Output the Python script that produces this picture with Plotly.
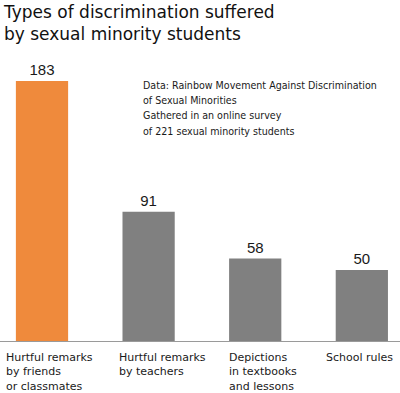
import plotly.graph_objects as go

categories = [
    "Hurtful remarks by friends or classmates",
    "Hurtful remarks by teachers",
    "Depictions in textbooks and lessons",
    "School rules",
]
tick_labels = [
    "Hurtful remarks<br>by friends<br>or classmates",
    "Hurtful remarks<br>by teachers",
    "Depictions<br>in textbooks<br>and lessons",
    "School rules",
]
values = [183, 91, 58, 50]

note_lines = [
    "Data: Rainbow Movement Against Discrimination",
    "of Sexual Minorities",
    "Gathered in an online survey",
    "of 221 sexual minority students",
]

bar_colors = ["#EF8A3C", "#808080", "#808080", "#808080"]
label_shifts = [-38, -32, -28, -38]

fig = go.Figure()
fig.add_trace(go.Bar(
    x=categories, y=values, width=0.49,
    marker=dict(color=bar_colors, line=dict(width=0)),
    text=[str(v) for v in values], textposition="outside",
    textfont=dict(family="Liberation Sans", size=15, color="#1a1a1a"),
    cliponaxis=False, hoverinfo="skip",
))

for cat, lab, sh in zip(categories, tick_labels, label_shifts):
    fig.add_annotation(
        x=cat, xref="x", y=0, yref="paper", text=lab, showarrow=False,
        xanchor="left", yanchor="top", align="left", xshift=sh, yshift=-8,
        font=dict(family="DejaVu Sans", size=11, color="#1a1a1a"),
    )

for i, line in enumerate(note_lines):
    fig.add_annotation(
        x=0.352, xref="paper", y=0.94, yref="paper", yshift=-15.3 * i,
        showarrow=False, xanchor="left", yanchor="top", align="left",
        text=line,
        font=dict(family="DejaVu Sans Condensed", size=10.6, color="#1a1a1a"),
    )

fig.add_annotation(
    x=0.003, xref="paper", y=1.0, yref="paper", yshift=60, showarrow=False,
    xanchor="left", yanchor="top", align="left",
    text="Types of discrimination suffered<br>by sexual minority students",
    font=dict(family="DejaVu Sans", size=17, color="#111111"),
)

fig.update_layout(
    width=400, height=393,
    margin=dict(l=0, r=0, t=60, b=52),
    paper_bgcolor="white", plot_bgcolor="white",
    showlegend=False,
    xaxis=dict(range=[-0.394, 3.358], showticklabels=False, showgrid=False,
               zeroline=False, showline=True, linecolor="#9a9a9a", linewidth=1,
               ticks="", fixedrange=True),
    yaxis=dict(range=[0, 197.8], visible=False, fixedrange=True),
)

fig.write_html(
    "out.html",
    config={"displayModeBar": False},
    post_script="document.body.style.margin='0px';document.body.style.overflow='hidden';",
)
